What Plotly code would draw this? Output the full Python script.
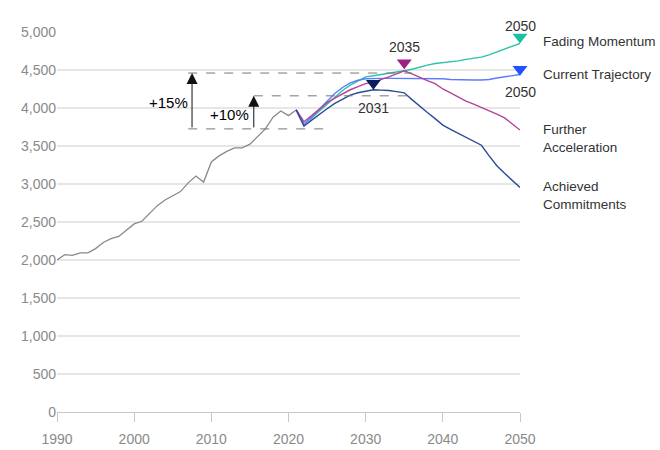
import plotly.graph_objects as go

# ---------------- data ----------------
hist_years = list(range(1990, 2022))
hist_values = [2000, 2070, 2060, 2095, 2095, 2150, 2230, 2280, 2310, 2390,
               2475, 2510, 2610, 2715, 2790, 2850, 2900, 3015, 3105, 3025,
               3290, 3370, 3430, 3475, 3475, 3525, 3620, 3725, 3880, 3960,
               3900, 3975]

scen_years = list(range(2021, 2051))
fading_momentum = [3975, 3790, 3870, 3960, 4060, 4150, 4230, 4300, 4360, 4410,
                   4425, 4440, 4455, 4470, 4490, 4510, 4540, 4565, 4585, 4595,
                   4605, 4620, 4640, 4655, 4670, 4700, 4740, 4780, 4815, 4850]
current_trajectory = [3975, 3780, 3880, 3990, 4090, 4190, 4270, 4330, 4365, 4385,
                      4390, 4390, 4390, 4390, 4390, 4390, 4390, 4390, 4390, 4385,
                      4375, 4370, 4370, 4368, 4368, 4375, 4395, 4410, 4425, 4440]
further_acceleration = [3975, 3820, 3900, 3990, 4070, 4130, 4190, 4240, 4280, 4320,
                        4340, 4370, 4410, 4450, 4490, 4450, 4400, 4360, 4320, 4250,
                        4200, 4140, 4090, 4050, 4010, 3960, 3920, 3870, 3790, 3710]
achieved_commitments = [3975, 3760, 3840, 3920, 3990, 4060, 4120, 4170, 4200, 4225,
                        4240, 4235, 4230, 4215, 4200, 4110, 4020, 3940, 3860, 3775,
                        3720, 3670, 3620, 3570, 3510, 3370, 3240, 3140, 3050, 2955]

series_names = ["Fading Momentum", "Current Trajectory",
                "Further Acceleration", "Achieved Commitments"]
series_values = [fading_momentum, current_trajectory,
                 further_acceleration, achieved_commitments]
line_colors = ["#2cc2ab", "#5b7cff", "#b2449a", "#2c4a96"]
marker_colors = ["#1fbfa3", "#2251ff", "#9e1f86", "#0b1f5e"]

# highlighted points (year, marker value, label value, label)
marker_years = [2050, 2050, 2035, 2031]
marker_values = [4935, 4510, 4595, 4325]
label_values = [5210, 4210, 4805, 4000]
label_texts = ["2050", "2050", "2035", "2031"]

# legend-label positions (data y)
legend_y = [4880, 4435, 3605, 2855]
legend_texts = ["Fading Momentum", "Current Trajectory",
                "Further<br>Acceleration", "Achieved<br>Commitments"]

y_ticks = [0, 500, 1000, 1500, 2000, 2500, 3000, 3500, 4000, 4500, 5000]
x_ticks = [1990, 2000, 2010, 2020, 2030, 2040, 2050]

# growth annotation levels
base_level = 3725
level_15 = 4460
level_10 = 4160

Y_MAX = 5000

fig = go.Figure()

fig.add_trace(go.Scatter(x=hist_years, y=hist_values, mode="lines",
                         line=dict(color="#8a8a8a", width=1.3),
                         showlegend=False, hoverinfo="skip"))

for name, vals, c in zip(series_names, series_values, line_colors):
    fig.add_trace(go.Scatter(x=scen_years, y=vals, mode="lines", name=name,
                             line=dict(color=c, width=1.4), showlegend=False))

fig.add_trace(go.Scatter(x=marker_years, y=marker_values, mode="markers",
                         marker=dict(symbol="triangle-down", size=13,
                                     color=marker_colors, line=dict(width=0)),
                         showlegend=False, cliponaxis=False))

shapes = [
    dict(type="line", xref="x", yref="y", x0=2007, x1=2036, y0=level_15, y1=level_15,
         line=dict(color="#777", width=1, dash="dash")),
    dict(type="line", xref="x", yref="y", x0=2015.5, x1=2036, y0=level_10, y1=level_10,
         line=dict(color="#777", width=1, dash="dash")),
    dict(type="line", xref="x", yref="y", x0=2007, x1=2025.6, y0=base_level, y1=base_level,
         line=dict(color="#777", width=1, dash="dash")),
]

annotations = []
# arrows
for ax_year, top in [(2007.5, level_15), (2015.5, level_10)]:
    annotations.append(dict(x=ax_year, y=top, ax=ax_year, ay=base_level,
                            xref="x", yref="y", axref="x", ayref="y",
                            text="", showarrow=True, arrowhead=2, arrowsize=2.2,
                            arrowwidth=1, arrowcolor="#111"))
annotations.append(dict(x=2004.5, y=4066, xref="x", yref="y", text="+15%",
                        showarrow=False, font=dict(size=15, color="#000")))
annotations.append(dict(x=2012.4, y=3908, xref="x", yref="y", text="+10%",
                        showarrow=False, font=dict(size=15, color="#000")))

for yr, lv, t in zip(marker_years, label_values, label_texts):
    if lv > Y_MAX:
        annotations.append(dict(x=yr, y=lv / Y_MAX, xref="x", yref="paper", text=t,
                                showarrow=False, font=dict(size=14, color="#333")))
    else:
        annotations.append(dict(x=yr, y=lv, xref="x", yref="y", text=t,
                                showarrow=False, font=dict(size=14, color="#333")))

for ly, t in zip(legend_y, legend_texts):
    annotations.append(dict(x=1.046, y=ly, xref="paper", yref="y", text=t,
                            xanchor="left", align="left", showarrow=False,
                            font=dict(size=13.5, color="#333")))

fig.update_layout(
    width=660, height=450,
    margin=dict(l=57, r=140, t=32, b=38),
    paper_bgcolor="white", plot_bgcolor="white",
    font=dict(family="Liberation Sans, Arial, sans-serif", size=14, color="#8a8a8a"),
    shapes=shapes, annotations=annotations,
    xaxis=dict(range=[1990, 2050], tickvals=x_ticks, showgrid=False,
               showline=True, linecolor="#c8c8c8", linewidth=1,
               ticks="outside", ticklen=9, tickcolor="#c8c8c8",
               ticklabelstandoff=5, automargin=False,
               tickfont=dict(size=14, color="#8a8a8a"), zeroline=False),
    yaxis=dict(range=[0, Y_MAX], tickvals=y_ticks, tickformat=",",
               showgrid=True, gridcolor="#e6e6e6", gridwidth=1.5,
               zeroline=False, showline=False, ticks="", automargin=False,
               tickfont=dict(size=14, color="#8a8a8a"), ticksuffix=" "),
    hovermode=False,
)

fig.write_html("out.html")
